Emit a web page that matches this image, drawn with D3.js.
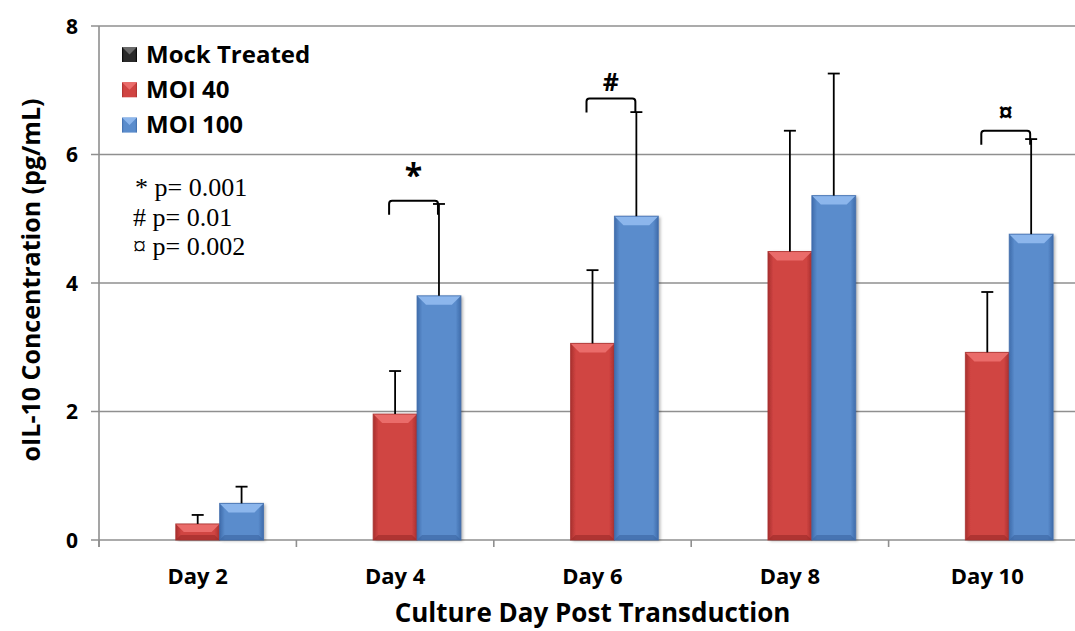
<!DOCTYPE html>
<html>
<head>
<meta charset="utf-8">
<script src="https://cdn.jsdelivr.net/npm/d3@7"></script>
<style>
  html, body { margin: 0; padding: 0; background: #ffffff; }
  svg { display: block; }
</style>
</head>
<body>
<svg id="chart" width="1075" height="631"></svg>
<script>
// ---------------- data ----------------
const days = ["Day 2", "Day 4", "Day 6", "Day 8", "Day 10"];
const seriesNames = ["Mock Treated", "MOI 40", "MOI 100"];
const mockValues = [0, 0, 0, 0, 0];
const moi40Values = [0.25, 1.96, 3.06, 4.49, 2.92];
const moi100Values = [0.57, 3.80, 5.04, 5.36, 4.76];
const mockErrors = [0, 0, 0, 0, 0];
const moi40Errors = [0.14, 0.67, 1.14, 1.88, 0.94];
const moi100Errors = [0.26, 1.43, 1.62, 1.90, 1.48];
const yTicks = [0, 2, 4, 6, 8];
const sigDays = ["Day 4", "Day 6", "Day 10"];
const sigSymbols = ["*", "#", "¤"];
const sigLevels = [5.28, 6.87, 6.37];
const statLines = ["* p= 0.001", "# p= 0.01", "¤ p= 0.002"];

// ---------------- layout ----------------
const svg = d3.select("#chart");
const plot = { left: 99, right: 1086, top: 26, bottom: 540 };
const sans = "'Open Sans', 'DejaVu Sans', sans-serif";

const x = d3.scaleBand().domain(days).range([plot.left, plot.right]).padding(0);
const catW = x.bandwidth();
const barW = catW / 4.5; // Excel gap width 150%
const xs = d3.scaleBand().domain(seriesNames).range([barW * 0.75, catW - barW * 0.75]).padding(0);
const y = d3.scaleLinear().domain([0, 8]).range([plot.bottom, plot.top]);

const palette = {
  "Mock Treated": { mid: "#2a2a2a", edge: "#000000", top: "#6a6a6a", bot: "#000000" },
  "MOI 40":       { mid: "#d04442", edge: "#a8302e", top: "#ea6c6a", bot: "#9a2a28" },
  "MOI 100":      { mid: "#5a8ccc", edge: "#3f6cab", top: "#8cb6ec", bot: "#3a64a0" }
};

const defs = svg.append("defs");
seriesNames.forEach((s, i) => {
  const c = palette[s];
  const g = defs.append("linearGradient").attr("id", "grad" + i).attr("x1", 0).attr("x2", 1).attr("y1", 0).attr("y2", 0);
  g.append("stop").attr("offset", "0%").attr("stop-color", c.edge);
  g.append("stop").attr("offset", "12%").attr("stop-color", c.mid);
  g.append("stop").attr("offset", "88%").attr("stop-color", c.mid);
  g.append("stop").attr("offset", "100%").attr("stop-color", c.edge);
});
const f = defs.append("filter").attr("id", "shadow").attr("x", "-20%").attr("y", "-5%").attr("width", "150%").attr("height", "115%");
f.append("feDropShadow").attr("dx", 2).attr("dy", 1).attr("stdDeviation", 1.5).attr("flood-color", "#000").attr("flood-opacity", 0.3);

// ---------------- gridlines ----------------
svg.append("g")
  .selectAll("line").data(yTicks).join("line")
  .attr("x1", plot.left - 8).attr("x2", 1075)
  .attr("y1", d => y(d)).attr("y2", d => y(d))
  .attr("stroke", "#8f8f8f").attr("stroke-width", 1.6);

// y axis line
svg.append("line")
  .attr("x1", plot.left).attr("x2", plot.left)
  .attr("y1", plot.top).attr("y2", plot.bottom + 7)
  .attr("stroke", "#8f8f8f").attr("stroke-width", 1.6);

// x axis ticks (category boundaries)
const xBounds = days.map(d => x(d)).concat([x(days[days.length - 1]) + catW]);
svg.append("g").selectAll("line").data(xBounds).join("line")
  .attr("x1", d => d).attr("x2", d => d)
  .attr("y1", plot.bottom).attr("y2", plot.bottom + 7)
  .attr("stroke", "#8f8f8f").attr("stroke-width", 1.6);

// y tick labels
svg.append("g").selectAll("text").data(yTicks).join("text")
  .attr("x", 78).attr("y", d => y(d))
  .attr("dy", "0.36em")
  .attr("text-anchor", "end")
  .attr("font-family", sans).attr("font-weight", "bold").attr("font-size", 21)
  .attr("fill", "#000")
  .text(d => d);

// x tick labels
svg.append("g").selectAll("text").data(days).join("text")
  .attr("x", d => x(d) + catW / 2).attr("y", 584)
  .attr("text-anchor", "middle")
  .attr("font-family", sans).attr("font-weight", "bold").attr("font-size", 22)
  .attr("fill", "#000")
  .text(d => d);

// axis titles
svg.append("text")
  .attr("x", (plot.left + plot.right) / 2).attr("y", 622)
  .attr("text-anchor", "middle")
  .attr("font-family", sans).attr("font-weight", "bold").attr("font-size", 26)
  .text("Culture Day Post Transduction");

svg.append("text")
  .attr("transform", "translate(40,280) rotate(-90)")
  .attr("text-anchor", "middle")
  .attr("font-family", sans).attr("font-weight", "bold").attr("font-size", 25)
  .text("oIL-10 Concentration (pg/mL)");

// ---------------- bars ----------------
const seriesValues = [mockValues, moi40Values, moi100Values];
const seriesErrors = [mockErrors, moi40Errors, moi100Errors];
const barData = [];
seriesNames.forEach((s, si) => {
  days.forEach((d, di) => {
    barData.push({ series: s, si, day: d, value: seriesValues[si][di], err: seriesErrors[si][di] });
  });
});

const barsG = svg.append("g");
barData.filter(b => b.value > 0).forEach(b => {
  const x0 = x(b.day) + xs(b.series);
  const w = xs.bandwidth();
  const y0 = y(b.value);
  const h = y(0) - y0;
  const c = palette[b.series];
  const g = barsG.append("g");
  g.append("rect").attr("x", x0).attr("y", y0).attr("width", w).attr("height", h)
    .attr("fill", `url(#grad${b.si})`).attr("filter", "url(#shadow)");
  const bv = Math.min(9, h / 2);
  g.append("polygon")
    .attr("points", [[x0, y0], [x0 + w, y0], [x0 + w - bv, y0 + bv], [x0 + bv, y0 + bv]].map(p => p.join(",")).join(" "))
    .attr("fill", c.top);
  const bb = Math.min(5, h / 3);
  g.append("polygon")
    .attr("points", [[x0, y0 + h], [x0 + w, y0 + h], [x0 + w - bb, y0 + h - bb], [x0 + bb, y0 + h - bb]].map(p => p.join(",")).join(" "))
    .attr("fill", c.bot).attr("opacity", 0.6);
  g.append("rect").attr("x", x0).attr("y", y0).attr("width", w).attr("height", h)
    .attr("fill", "none").attr("stroke", c.edge).attr("stroke-width", 1).attr("opacity", 0.8);
});

// ---------------- error bars ----------------
const errG = svg.append("g").attr("stroke", "#000").attr("stroke-width", 1.8);
barData.filter(b => b.err > 0).forEach(b => {
  const cx = x(b.day) + xs(b.series) + xs.bandwidth() / 2;
  const yTop = y(b.value + b.err);
  errG.append("line").attr("x1", cx).attr("x2", cx).attr("y1", y(b.value)).attr("y2", yTop);
  errG.append("line").attr("x1", cx - 6).attr("x2", cx + 6).attr("y1", yTop).attr("y2", yTop);
});

// ---------------- significance brackets ----------------
const symOffset = { "*": 14, "#": 8, "¤": 9 };
const symSize = { "*": 32, "#": 25, "¤": 27 };
sigDays.forEach((d, i) => {
  const xl = x(d) + xs("MOI 40") + xs.bandwidth() / 2 - 6;
  const xr = x(d) + xs("MOI 100") + xs.bandwidth() / 2 - 1;
  const yt = y(sigLevels[i]);
  const leg = 14, r = 3;
  svg.append("path")
    .attr("d", `M${xl},${yt + leg} L${xl},${yt + r} Q${xl},${yt} ${xl + r},${yt} L${xr - r},${yt} Q${xr},${yt} ${xr},${yt + r} L${xr},${yt + leg}`)
    .attr("fill", "none").attr("stroke", "#000").attr("stroke-width", 2);
  const sym = sigSymbols[i];
  svg.append("text")
    .attr("x", (xl + xr) / 2).attr("y", yt - symOffset[sym])
    .attr("text-anchor", "middle")
    .attr("font-family", sans).attr("font-weight", "bold")
    .attr("font-size", symSize[sym])
    .text(sym);
});

// ---------------- p-value note ----------------
svg.append("g").selectAll("text").data(statLines).join("text")
  .attr("x", (d, i) => i === 0 ? 135 : 133)
  .attr("y", (d, i) => 196 + i * 29.5)
  .attr("font-family", "'Liberation Serif', 'Times New Roman', serif")
  .attr("font-size", 26)
  .text(d => d);

// ---------------- legend ----------------
const leg = svg.append("g");
seriesNames.forEach((s, i) => {
  const cy = 54.5 + i * 35.3;
  const c = palette[s];
  const sx = 122, sz = 15;
  leg.append("rect").attr("x", sx).attr("y", cy - sz / 2).attr("width", sz).attr("height", sz)
    .attr("fill", `url(#grad${i})`);
  leg.append("polygon")
    .attr("points", [[sx, cy - sz / 2], [sx + sz, cy - sz / 2], [sx + sz / 2, cy]].map(p => p.join(",")).join(" "))
    .attr("fill", c.top);
  leg.append("text")
    .attr("x", 146).attr("y", cy + 8)
    .attr("font-family", sans).attr("font-weight", "bold").attr("font-size", 24)
    .text(s);
});
</script>
</body>
</html>
